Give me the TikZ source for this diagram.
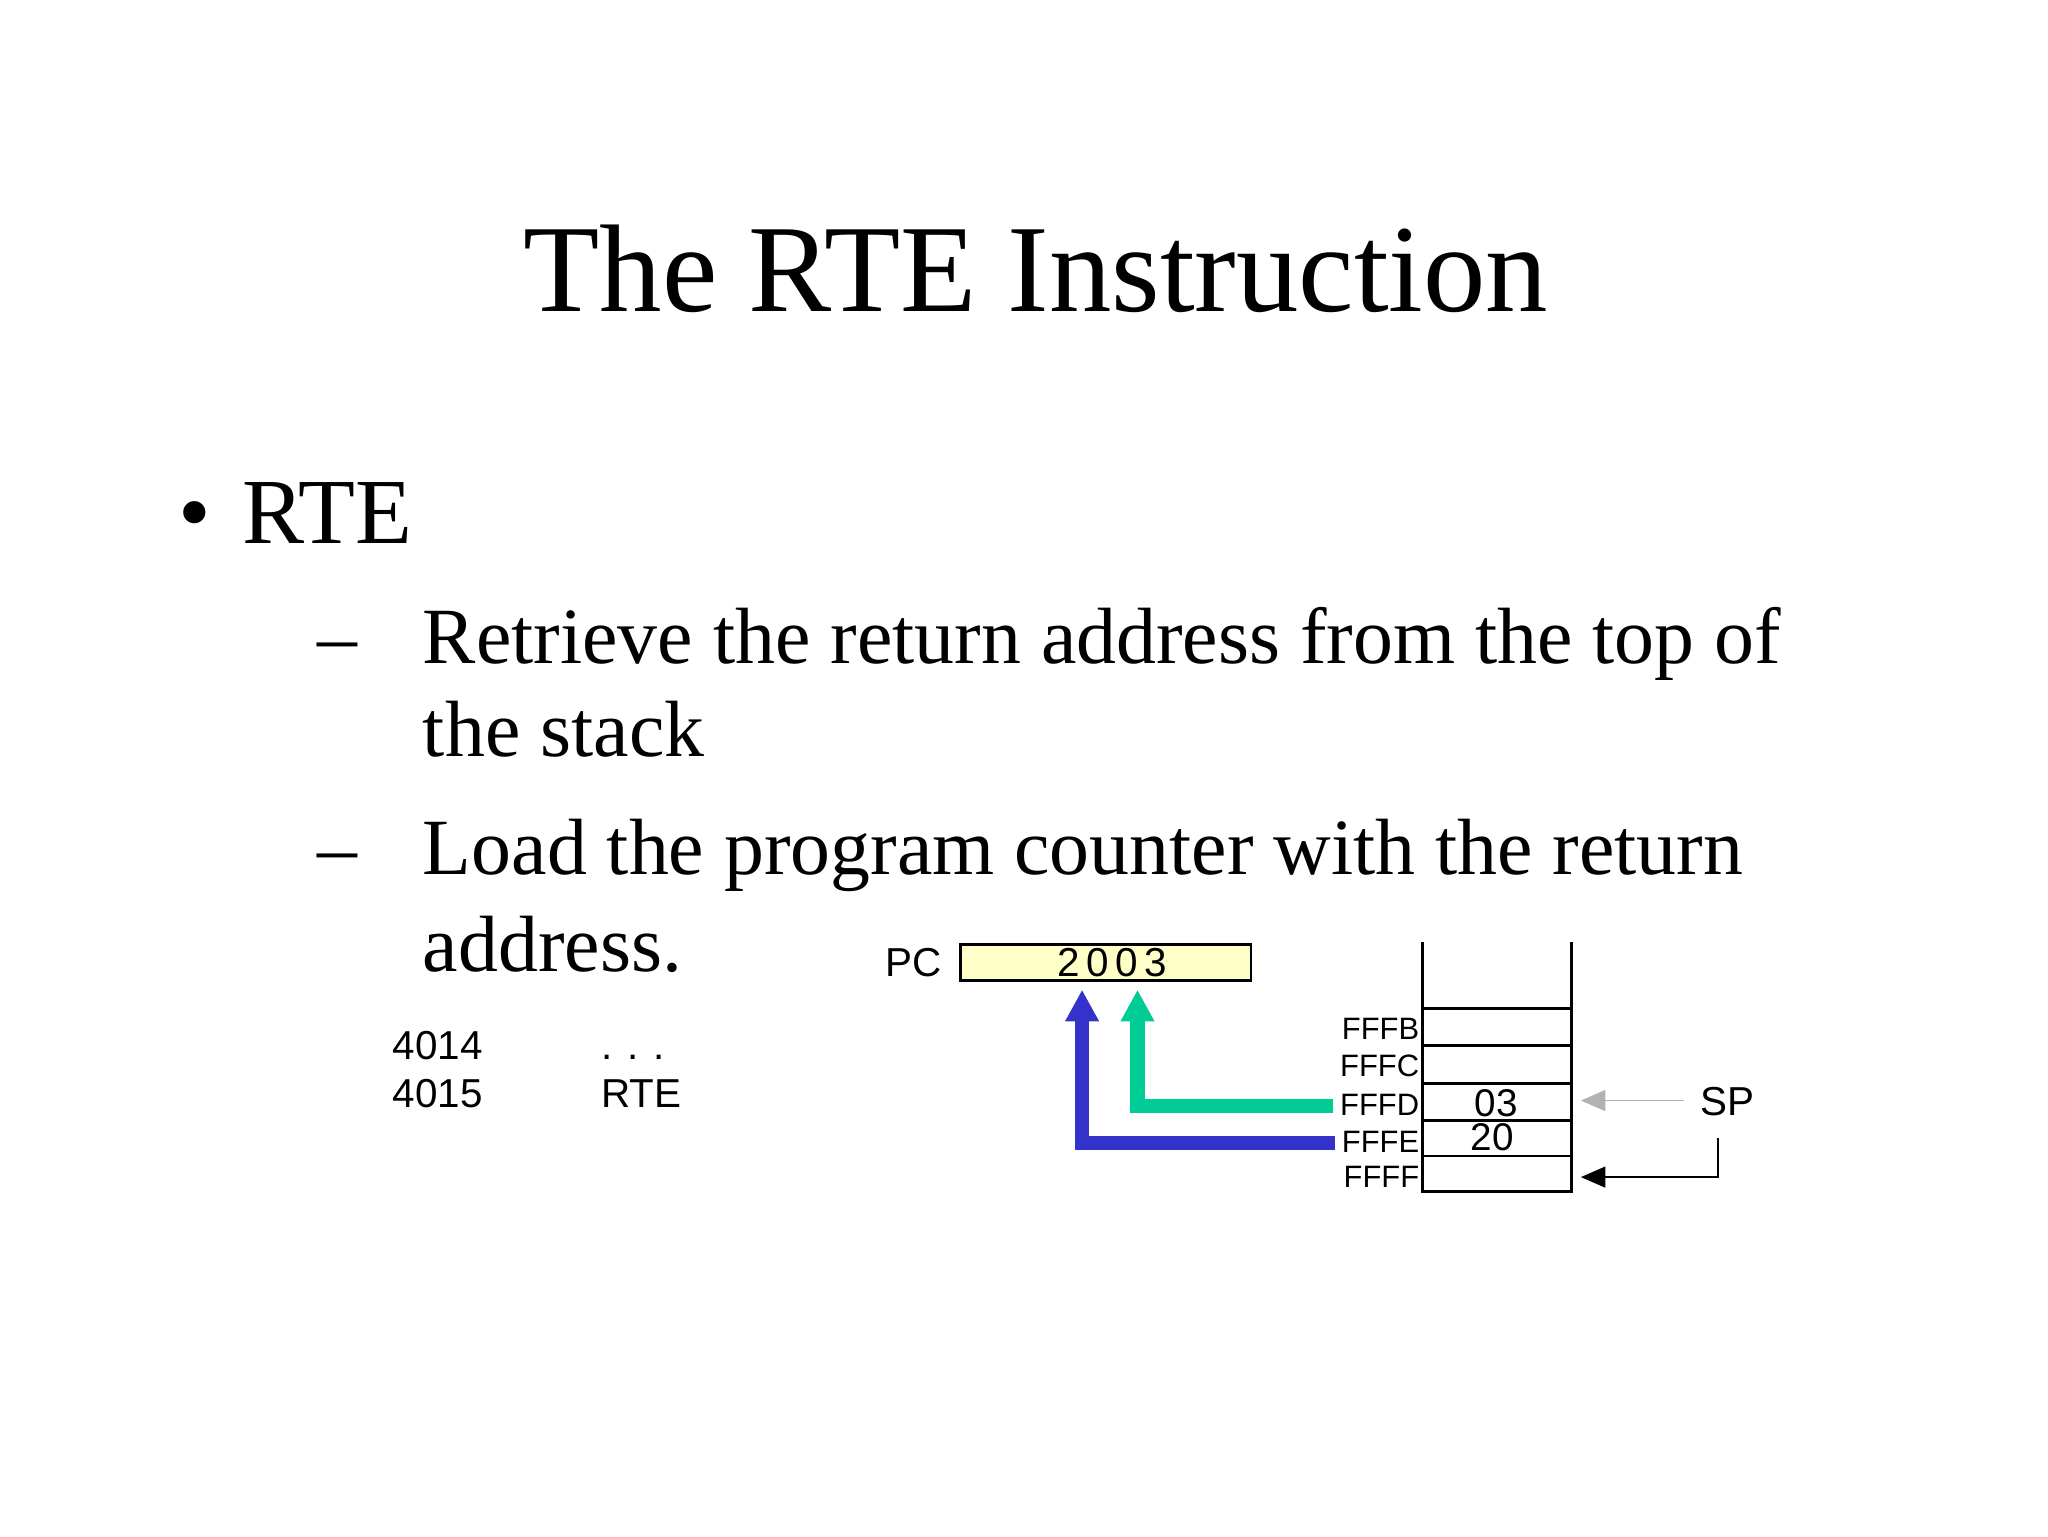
\documentclass[tikz,border=0pt]{standalone}
\usepackage{fontspec}
\setmainfont{Liberation Serif}
\newfontfamily\arial{Liberation Sans}
\usetikzlibrary{arrows.meta}
\definecolor{pcfill}{RGB}{255,255,200}
\definecolor{greenarrow}{RGB}{0,204,150}
\definecolor{bluearrow}{RGB}{51,51,204}
\tikzset{
txt/.style={inner sep=0pt,anchor=base west},
mono/.style={inner sep=0pt,font=\arial\fontsize{11.5}{13}\selectfont},
addr/.style={inner sep=0pt,anchor=base east,font=\arial\fontsize{8.8}{10}\selectfont},
flow/.style={line width=4pt,-{Triangle[length=9pt,width=9pt]}}
}
\begin{document}
\begin{tikzpicture}
[x=0.013196cm,y=-0.013196cm]
\useasboundingbox (0,0) rectangle (1552,1164);
\node[inner sep=0pt,anchor=base,font=\fontsize{35.5}{40}\selectfont] (title) at (785,236) {The RTE Instruction};
\node[txt,font=\fontsize{26.5}{30}\selectfont] (bullet) at (135,412) {\textbullet};
\node[txt,font=\fontsize{26.5}{30}\selectfont] (rte) at (183,412) {RTE};
\node[txt,font=\fontsize{22.7}{26}\selectfont] (dash1) at (240,503) {--};
\node[txt,font=\fontsize{22.7}{26}\selectfont] (line1) at (320,503) {Retrieve the return address from the top of};
\node[txt,font=\fontsize{22.7}{26}\selectfont] (line2) at (320,573) {the stack};
\node[txt,font=\fontsize{22.7}{26}\selectfont] (dash2) at (240,663) {--};
\node[txt,font=\fontsize{22.7}{26}\selectfont] (line3) at (320,663) {Load the program counter with the return};
\node[txt,font=\fontsize{22.7}{26}\selectfont] (line4) at (320,736) {address.};

\node[mono,anchor=base west] (a4014) at (297,803) {4014};
\node[mono,anchor=base west] (a4015) at (297,839) {4015};
\node[mono,anchor=base west] (dots) at (455,803) {. . .};
\node[mono,anchor=base west] (instr) at (455,839) {RTE};

% program counter
\node[mono,anchor=base east] (pc label) at (714,740) {PC};
\draw[fill=pcfill,line width=0.8pt] (728,716) rectangle (948,743);
\node[mono,anchor=base] (pc) at (843,740) {2\,0\,0\,3};

% stack
\draw[line width=0.8pt] (1078,714) -- (1078,903) -- (1191,903) -- (1191,714);
\foreach \y in {764,792,821,849,876}
  \draw[line width=0.8pt] (1078,\y) -- (1191,\y);
\node[addr] (fffb) at (1076,788) {FFFB};
\node[addr] (fffc) at (1076,816) {FFFC};
\node[addr] (fffd) at (1076,845) {FFFD};
\node[addr] (fffe) at (1076,873) {FFFE};
\node[addr] (ffff) at (1076,900) {FFFF};
\node[mono,anchor=base,font=\arial\fontsize{11}{12}\selectfont] (v03) at (1134,846) {03};
\node[mono,anchor=base,font=\arial\fontsize{11}{12}\selectfont] (v20) at (1131,872) {20};

% stack pointer
\node[mono,anchor=base west] (sp) at (1288,845) {SP};
\coordinate (sp old) at (1198,834);
\coordinate (sp new) at (1198,892);
\draw[gray!60,-{Triangle[length=7pt,width=6pt]}] (sp.west |- sp old) ++(-12,0) -- (sp old);
\draw[-{Triangle[length=7pt,width=6pt]}] (1302,862) -- (1302,892) -- (sp new);

% pops into the PC
\draw[flow,greenarrow] (fffd.west |- 0,838) ++(-5,0) -- (862,838) -- (862,750);
\draw[flow,bluearrow] (fffe.west |- 0,866) ++(-5,0) -- (820,866) -- (820,750);
\end{tikzpicture}
\end{document}
